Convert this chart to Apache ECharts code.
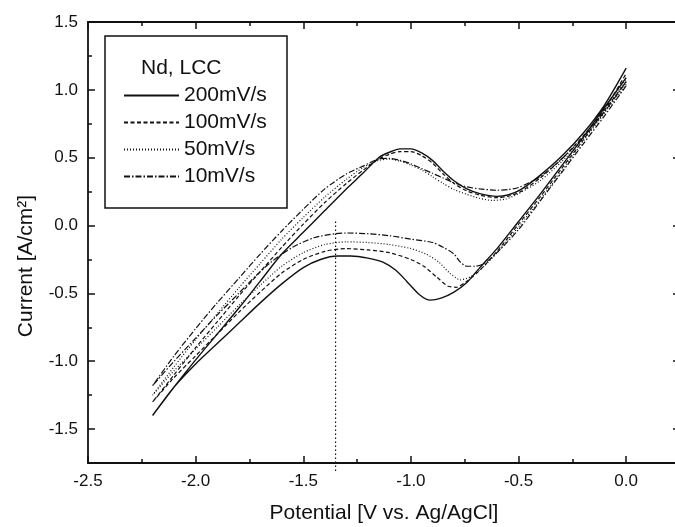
<!DOCTYPE html>
<html>
<head>
<meta charset="utf-8">
<script src="https://cdn.jsdelivr.net/npm/echarts@6/dist/echarts.min.js"></script>
<style>html,body{margin:0;padding:0;background:#fff}#c{width:675px;height:527px}</style>
</head>
<body>
<div id="c"></div>
<script>
// Series names (scan rates)
const seriesNames = ['200mV/s', '100mV/s', '50mV/s', '10mV/s'];
const legendTitle = 'Nd, LCC';

// Cyclic voltammograms: [potential V, current A/cm2], cathodic sweep then anodic sweep
const cv200 = [[0,1.09],[-0.1,0.87],[-0.2,0.65],[-0.3,0.44],[-0.4,0.23],[-0.5,0.03],[-0.6,-0.17],[-0.68,-0.31],[-0.74,-0.42],[-0.8,-0.49],[-0.86,-0.535],[-0.91,-0.55],[-0.96,-0.51],[-1.02,-0.41],[-1.07,-0.33],[-1.13,-0.27],[-1.2,-0.24],[-1.28,-0.225],[-1.34,-0.225],[-1.42,-0.25],[-1.5,-0.31],[-1.6,-0.43],[-1.7,-0.57],[-1.8,-0.72],[-1.9,-0.87],[-2.0,-1.02],[-2.1,-1.19],[-2.2,-1.40],
  [-2.1,-1.19],[-2.0,-0.99],[-1.9,-0.80],[-1.8,-0.61],[-1.7,-0.41],[-1.6,-0.21],[-1.5,-0.05],[-1.4,0.11],[-1.3,0.27],[-1.22,0.39],[-1.15,0.50],[-1.1,0.54],[-1.05,0.565],[-1.0,0.565],[-0.95,0.535],[-0.9,0.48],[-0.85,0.40],[-0.8,0.33],[-0.74,0.27],[-0.68,0.235],[-0.6,0.215],[-0.55,0.225],[-0.49,0.265],[-0.4,0.37],[-0.3,0.51],[-0.2,0.68],[-0.1,0.89],[0,1.16]];
const cv100 = [[0,1.06],[-0.1,0.85],[-0.2,0.63],[-0.3,0.42],[-0.4,0.21],[-0.5,0.01],[-0.6,-0.19],[-0.68,-0.33],[-0.74,-0.41],[-0.79,-0.455],[-0.83,-0.445],[-0.88,-0.38],[-0.94,-0.30],[-1.0,-0.25],[-1.1,-0.20],[-1.2,-0.18],[-1.3,-0.17],[-1.4,-0.19],[-1.5,-0.25],[-1.6,-0.35],[-1.7,-0.49],[-1.8,-0.64],[-1.9,-0.80],[-2.0,-0.96],[-2.1,-1.12],[-2.2,-1.30],
  [-2.1,-1.10],[-2.0,-0.90],[-1.9,-0.71],[-1.8,-0.52],[-1.7,-0.34],[-1.6,-0.16],[-1.5,0.01],[-1.4,0.17],[-1.3,0.31],[-1.22,0.41],[-1.15,0.49],[-1.1,0.525],[-1.05,0.545],[-1.0,0.545],[-0.95,0.515],[-0.9,0.46],[-0.85,0.38],[-0.8,0.31],[-0.74,0.255],[-0.68,0.225],[-0.6,0.205],[-0.55,0.215],[-0.49,0.25],[-0.4,0.35],[-0.3,0.49],[-0.2,0.66],[-0.1,0.86],[0,1.12]];
const cv50 = [[0,1.04],[-0.1,0.83],[-0.2,0.62],[-0.3,0.40],[-0.4,0.19],[-0.5,-0.01],[-0.6,-0.20],[-0.66,-0.30],[-0.72,-0.375],[-0.77,-0.40],[-0.82,-0.35],[-0.87,-0.27],[-0.93,-0.21],[-1.0,-0.17],[-1.1,-0.14],[-1.2,-0.125],[-1.3,-0.12],[-1.4,-0.14],[-1.5,-0.20],[-1.6,-0.30],[-1.7,-0.44],[-1.8,-0.59],[-1.9,-0.75],[-2.0,-0.91],[-2.1,-1.07],[-2.2,-1.25],
  [-2.1,-1.04],[-2.0,-0.84],[-1.9,-0.65],[-1.8,-0.46],[-1.7,-0.28],[-1.6,-0.10],[-1.5,0.06],[-1.4,0.21],[-1.3,0.34],[-1.22,0.43],[-1.15,0.48],[-1.1,0.49],[-1.05,0.475],[-1.0,0.445],[-0.95,0.41],[-0.9,0.36],[-0.85,0.31],[-0.8,0.265],[-0.74,0.23],[-0.68,0.20],[-0.62,0.185],[-0.56,0.195],[-0.5,0.235],[-0.4,0.33],[-0.3,0.47],[-0.2,0.64],[-0.1,0.84],[0,1.08]];
const cv10 = [[0,1.03],[-0.1,0.81],[-0.2,0.60],[-0.3,0.39],[-0.4,0.18],[-0.5,-0.03],[-0.6,-0.20],[-0.66,-0.28],[-0.7,-0.30],[-0.74,-0.30],[-0.77,-0.27],[-0.8,-0.21],[-0.85,-0.16],[-0.9,-0.125],[-1.0,-0.10],[-1.1,-0.075],[-1.2,-0.06],[-1.3,-0.055],[-1.35,-0.06],[-1.45,-0.09],[-1.55,-0.16],[-1.65,-0.27],[-1.72,-0.37],[-1.8,-0.50],[-1.9,-0.66],[-2.0,-0.83],[-2.1,-1.0],[-2.2,-1.18],
  [-2.1,-0.96],[-2.0,-0.76],[-1.9,-0.57],[-1.8,-0.39],[-1.7,-0.21],[-1.6,-0.04],[-1.5,0.12],[-1.4,0.27],[-1.3,0.38],[-1.22,0.44],[-1.15,0.49],[-1.1,0.495],[-1.05,0.48],[-1.0,0.455],[-0.95,0.42],[-0.9,0.385],[-0.85,0.35],[-0.8,0.315],[-0.74,0.285],[-0.68,0.27],[-0.6,0.26],[-0.55,0.265],[-0.5,0.28],[-0.4,0.36],[-0.3,0.49],[-0.2,0.65],[-0.1,0.84],[0,1.06]];

// Vertical dotted marker
const markerLine = [[-1.35, 0.03], [-1.35, -1.82]];

// Axes ticks
const xMajorTicks = [-2.5, -2.0, -1.5, -1.0, -0.5, 0.0];
const xMinorTicks = [-2.25, -1.75, -1.25, -0.75, -0.25];
const yMajorTicks = [-1.5, -1.0, -0.5, 0.0, 0.5, 1.0, 1.5];
const yMinorTicks = [-1.25, -0.75, -0.25, 0.25, 0.75, 1.25];

const FONT = '"Liberation Sans", Arial, sans-serif';
const INK = '#111';
const chart = echarts.init(document.getElementById('c'), null, {renderer: 'canvas'});

function xAx(pos, ticks, len, showLine, showLabel) {
  return {
    type: 'value', position: pos, min: -2.5, max: 0.25,
    axisLine: {show: showLine, onZero: false, lineStyle: {color: INK, width: 1.8}},
    axisTick: {show: true, inside: true, length: len, customValues: ticks, lineStyle: {color: INK, width: 1.5}},
    axisLabel: {show: showLabel, customValues: ticks, formatter: v => v.toFixed(1), fontSize: 17, color: INK, fontFamily: FONT, margin: 10},
    splitLine: {show: false}
  };
}
function yAx(pos, ticks, len, showLine, showLabel) {
  return {
    type: 'value', position: pos, min: -1.75, max: 1.5,
    axisLine: {show: showLine, onZero: false, lineStyle: {color: INK, width: 1.8}},
    axisTick: {show: true, inside: true, length: len, customValues: ticks, lineStyle: {color: INK, width: 1.5}},
    axisLabel: {show: showLabel, customValues: ticks, formatter: v => v.toFixed(1), fontSize: 17, color: INK, fontFamily: FONT, margin: 10},
    splitLine: {show: false}
  };
}

const styles = [
  {type: 'solid', width: 1.4},
  {type: [4, 2.5], width: 1.2},
  {type: [1, 2], width: 1.2},
  {type: [6, 2, 1.5, 2], width: 1.2}
];
const datasets = [cv200, cv100, cv50, cv10];

const series = datasets.map((d, i) => ({
  name: seriesNames[i], type: 'line', data: d, smooth: 0.25, symbol: 'none',
  xAxisIndex: 0, yAxisIndex: 0,
  lineStyle: Object.assign({color: INK}, styles[i]),
  itemStyle: {color: 'rgba(0,0,0,0)', opacity: 0, borderWidth: 0}
}));
series.push({
  name: 'marker', type: 'line', data: markerLine, symbol: 'none', clip: false,
  xAxisIndex: 0, yAxisIndex: 0, silent: true,
  lineStyle: {color: INK, width: 1.2, type: [1.5, 2.5]}
});

chart.setOption({
  animation: false,
  backgroundColor: '#fff',
  grid: {left: 88, top: 22, width: 592, height: 441, outerBoundsMode: 'none', containLabel: false},
  xAxis: [
    xAx('bottom', xMajorTicks, 7, true, true),
    xAx('bottom', xMinorTicks, 4, false, false),
    xAx('top', xMajorTicks, 7, true, false),
    xAx('top', xMinorTicks, 4, false, false)
  ],
  yAxis: [
    yAx('left', yMajorTicks, 7, true, true),
    yAx('left', yMinorTicks, 4, false, false),
    yAx('right', yMajorTicks, 7, true, false),
    yAx('right', yMinorTicks, 4, false, false)
  ],
  legend: {
    orient: 'vertical', left: 123, top: 82, padding: 0, itemGap: 0,
    itemWidth: 55, itemHeight: 14, data: seriesNames,
    itemStyle: {color: 'rgba(0,0,0,0)', opacity: 0, borderWidth: 0},
    textStyle: {fontSize: 21, color: INK, fontFamily: FONT, lineHeight: 27}
  },
  graphic: [
    {type: 'rect', shape: {x: 105, y: 36, width: 182, height: 172}, style: {fill: 'none', stroke: INK, lineWidth: 1.5}, z: 100},
    {type: 'text', x: 141, y: 68, style: {text: legendTitle, fontSize: 21, fontFamily: FONT, fill: INK, verticalAlign: 'middle', textAlign: 'left'}, z: 100},
    {type: 'text', x: 384, y: 513, style: {text: 'Potential [V vs. Ag/AgCl]', fontSize: 21, fontFamily: FONT, fill: INK, verticalAlign: 'middle', textAlign: 'center'}, z: 100},
    {type: 'text', x: 26, y: 266, rotation: Math.PI / 2, style: {text: 'Current [A/cm²]', fontSize: 21, fontFamily: FONT, fill: INK, verticalAlign: 'middle', textAlign: 'center'}, z: 100}
  ],
  series: series
});
</script>
</body>
</html>
